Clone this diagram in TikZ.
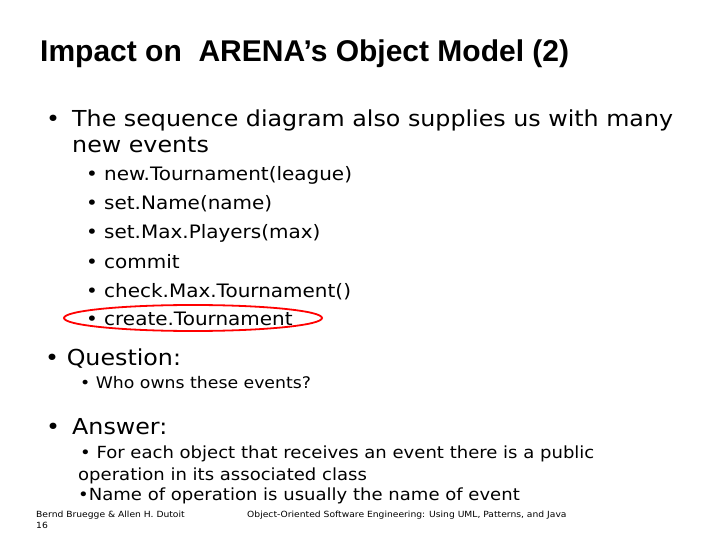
\documentclass[tikz,border=0pt]{standalone}
\usepackage{fontspec}
\setmainfont{DejaVu Sans}[FakeStretch=1.08]
\newfontfamily\titlefont{Liberation Sans}
\begin{document}
\begin{tikzpicture}[x=1pt,y=-1pt,
  txt/.style={anchor=base west,inner sep=0pt},
  lvA/.style={txt,font=\fontsize{22}{25}\selectfont},
  lvB/.style={txt,font=\fontsize{18.5}{22}\selectfont},
  lvC/.style={txt,font=\fontsize{16}{19}\selectfont},
  lvD/.style={txt,font=\fontsize{16.7}{20}\selectfont},
  foot/.style={txt,font=\fontsize{8.5}{10}\selectfont}]
\useasboundingbox (0,0) rectangle (720,540);
\node[txt,font=\titlefont\bfseries\fontsize{30}{33}\selectfont] (title) at (40,62) {Impact on\ \ ARENA’s Object Model (2)};
\node[lvA] (b1bul) at (46,127) {\textbullet};
\node[lvA] (b1) at (72,127) {The sequence diagram also supplies us with many};
\node[lvA] (b1b) at (72,153) {new events};
\foreach \t/\y [count=\i] in {new.Tournament(league)/181,set.Name(name)/210,set.Max.Players(max)/239,commit/268,check.Max.Tournament()/297,create.Tournament/325}{
  \node[lvB] (sb\i) at (86,\y) {\textbullet};
  \node[lvB] (st\i) at (104,\y) {\t};
}
\draw[red,line width=1.8pt] (193,318) ellipse [x radius=129,y radius=13];
\node[lvA] (q) at (45,365) {\textbullet\ Question:};
\node[lvC] (q1) at (80,388) {\textbullet\ Who owns these events?};
\node[lvA] (abul) at (46,434) {\textbullet};
\node[lvA] (a) at (72,434) {Answer:};
\node[lvD] (a1) at (80,458) {\textbullet\ For each object that receives an event there is a public};
\node[lvD] (a2) at (78,480) {operation in its associated class};
\node[lvD] (a3) at (78,500) {\textbullet Name of operation is usually the name of event};
\node[foot] (f1) at (36,517) {Bernd Bruegge \& Allen H. Dutoit};
\node[foot] (f2) at (36,528) {16};
\node[foot] (f3) at (247,517) {Object-Oriented Software Engineering: Using UML, Patterns, and Java};
\end{tikzpicture}
\end{document}
